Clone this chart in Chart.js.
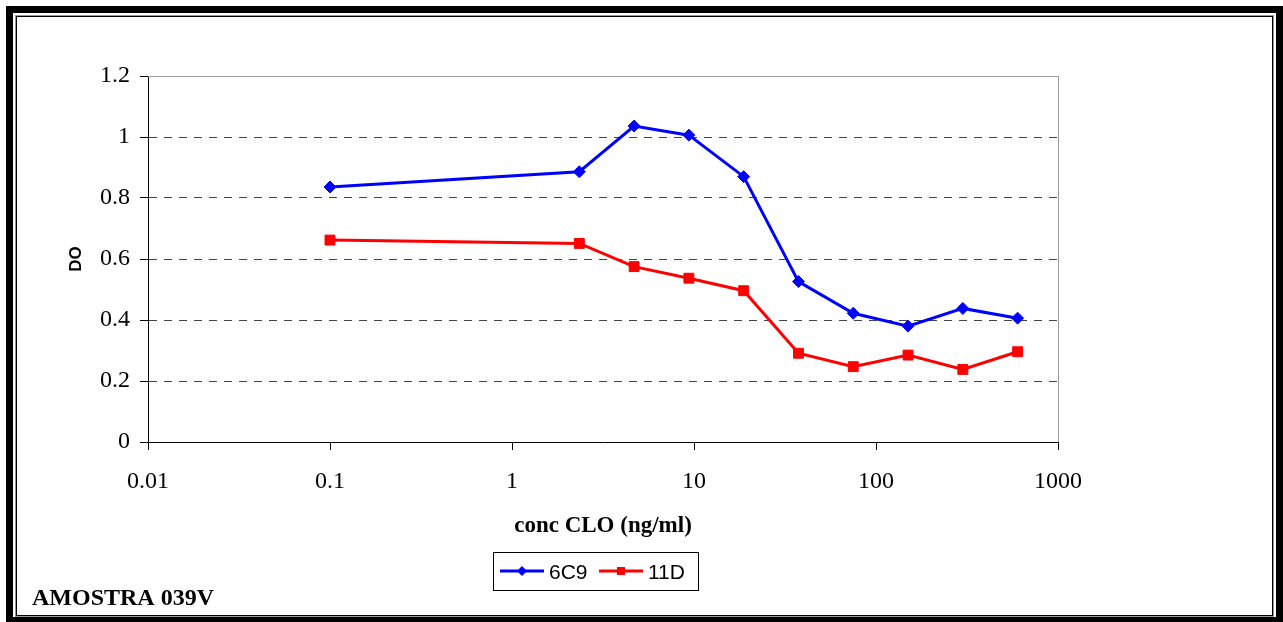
<!DOCTYPE html>
<html>
<head>
<meta charset="utf-8">
<script src="https://cdn.jsdelivr.net/npm/chart.js@4/dist/chart.umd.min.js"></script>
<style>
    html, body { margin: 0; padding: 0; background: #fff; width: 1283px; height: 622px; overflow: hidden; }
    #wrap { position: relative; width: 1283px; height: 622px; }
    .frame { position: absolute; box-sizing: border-box; pointer-events: none; }
    #outerFrame { left: 6px; top: 6px; width: 1277px; height: 618px; border: 7px solid #000; }
    #grayFrame { left: 15px; top: 15px; width: 1259px; height: 602px; border: 1px solid #9a9a9a; }
    #innerFrame { left: 16px; top: 16px; width: 1257px; height: 600px; border: 1px solid #000; }
    #chart { position: absolute; left: 0; top: 0; }
</style>
</head>
<body>
<div id="wrap">
    <div class="frame" id="outerFrame"></div>
    <div class="frame" id="grayFrame"></div>
    <div class="frame" id="innerFrame"></div>
    <canvas id="chart" width="1283" height="622"></canvas>
</div>
<script>
// concentrations (ng/ml), halving dilutions plus the 0.1 point
const concValues = [0.1, 2.34375, 4.6875, 9.375, 18.75, 37.5, 75, 150, 300, 600];
const series6C9 = [0.836, 0.886, 1.036, 1.006, 0.870, 0.526, 0.422, 0.380, 0.438, 0.406];
const series11D = [0.662, 0.651, 0.575, 0.537, 0.496, 0.291, 0.247, 0.285, 0.238, 0.296];
const seriesNames = ['6C9', '11D'];
const xTickValues = [0.01, 0.1, 1, 10, 100, 1000];
const yTickValues = [0, 0.2, 0.4, 0.6, 0.8, 1, 1.2];
const captionText = 'AMOSTRA 039V';

const BLUE = '#0000ff';
const RED = '#ff0000';
const SERIF = '"Liberation Serif", "Times New Roman", serif';
const SANS = '"Liberation Sans", Arial, sans-serif';

function toPoints(values) {
    return concValues.map((x, i) => ({ x: x, y: values[i] }));
}

function drawMarker(ctx, style, x, y, r) {
    ctx.beginPath();
    if (style === 'rectRot') {
        ctx.moveTo(x, y - r);
        ctx.lineTo(x + r, y);
        ctx.lineTo(x, y + r);
        ctx.lineTo(x - r, y);
        ctx.closePath();
    } else {
        ctx.rect(x - r, y - r, 2 * r, 2 * r);
    }
    ctx.fill();
}

const decorPlugin = {
    id: 'decor',
    afterDraw(chart) {
        const ctx = chart.ctx;
        const area = chart.chartArea;
        ctx.save();

        // gray top / right border of the plot area
        ctx.strokeStyle = '#9a9a9a';
        ctx.lineWidth = 1;
        ctx.beginPath();
        ctx.moveTo(area.left, Math.round(area.top) + 0.5);
        ctx.lineTo(Math.round(area.right) + 0.5, Math.round(area.top) + 0.5);
        ctx.lineTo(Math.round(area.right) + 0.5, area.bottom);
        ctx.stroke();

        // legend box
        ctx.strokeStyle = '#000';
        ctx.strokeRect(493.5, 552.5, 205, 38);
        const itemX = [500, 599];
        const rowY = 571;
        chart.data.datasets.forEach((ds, i) => {
            const x0 = itemX[i];
            ctx.strokeStyle = ds.borderColor;
            ctx.fillStyle = ds.borderColor;
            ctx.lineWidth = 3;
            ctx.beginPath();
            ctx.moveTo(x0, rowY);
            ctx.lineTo(x0 + 44, rowY);
            ctx.stroke();
            drawMarker(ctx, ds.pointStyle, x0 + 22, rowY, ds.pointStyle === 'rectRot' ? 5 : 4);
            ctx.fillStyle = '#000';
            ctx.font = '21px ' + SANS;
            ctx.textBaseline = 'alphabetic';
            ctx.textAlign = 'left';
            ctx.fillText(ds.label, x0 + 49, 579);
        });

        // caption
        ctx.fillStyle = '#000';
        ctx.font = 'bold 24px ' + SERIF;
        ctx.textAlign = 'left';
        ctx.textBaseline = 'alphabetic';
        ctx.fillText(captionText, 32, 605);
        ctx.restore();
    }
};

new Chart(document.getElementById('chart'), {
    type: 'line',
    data: {
        datasets: [
            {
                label: seriesNames[0],
                data: toPoints(series6C9),
                borderColor: BLUE,
                backgroundColor: BLUE,
                borderWidth: 3,
                pointStyle: 'rectRot',
                pointRadius: 6,
                pointBorderWidth: 1,
                tension: 0,
                clip: false
            },
            {
                label: seriesNames[1],
                data: toPoints(series11D),
                borderColor: RED,
                backgroundColor: RED,
                borderWidth: 3,
                pointStyle: 'rect',
                pointRadius: 7,
                pointBorderWidth: 1,
                tension: 0,
                clip: false
            }
        ]
    },
    options: {
        responsive: false,
        animation: false,
        devicePixelRatio: 1,
        layout: { padding: { top: 76, right: 225, left: 0, bottom: 0 } },
        plugins: {
            legend: { display: false },
            tooltip: { enabled: false }
        },
        scales: {
            x: {
                type: 'logarithmic',
                min: 0.01,
                max: 1000,
                afterBuildTicks: scale => { scale.ticks = xTickValues.map(v => ({ value: v })); },
                afterFit: scale => { scale.height = 180; },
                ticks: {
                    callback: value => String(value),
                    color: '#000',
                    font: { family: SERIF, size: 24 },
                    padding: 17,
                    maxRotation: 0,
                    autoSkip: false
                },
                grid: { drawOnChartArea: false, tickLength: 8, color: '#000' },
                border: { color: '#000', width: 1 },
                title: {
                    display: true,
                    text: 'conc CLO (ng/ml)',
                    color: '#000',
                    font: { family: SERIF, size: 23, weight: 'bold' },
                    padding: { top: 0, bottom: 82 }
                }
            },
            y: {
                min: 0,
                max: 1.2,
                afterBuildTicks: scale => { scale.ticks = yTickValues.map(v => ({ value: v })); },
                afterFit: scale => { scale.width = 148; },
                ticks: {
                    callback: value => String(Number(value.toFixed(1))),
                    color: '#000',
                    font: { family: SERIF, size: 24 },
                    padding: 10
                },
                grid: {
                    color: ctx => (ctx.tick && (ctx.tick.value === 0 || ctx.tick.value === 1.2)) ? 'rgba(0,0,0,0)' : '#444',
                    tickColor: '#000',
                    tickLength: 8
                },
                border: { color: '#000', width: 1, dash: [8, 7] },
                title: {
                    display: true,
                    text: 'DO',
                    color: '#000',
                    font: { family: SANS, size: 17, weight: 'bold' },
                    padding: { top: 66, bottom: 0 }
                }
            }
        }
    },
    plugins: [decorPlugin]
});
</script>
</body>
</html>
